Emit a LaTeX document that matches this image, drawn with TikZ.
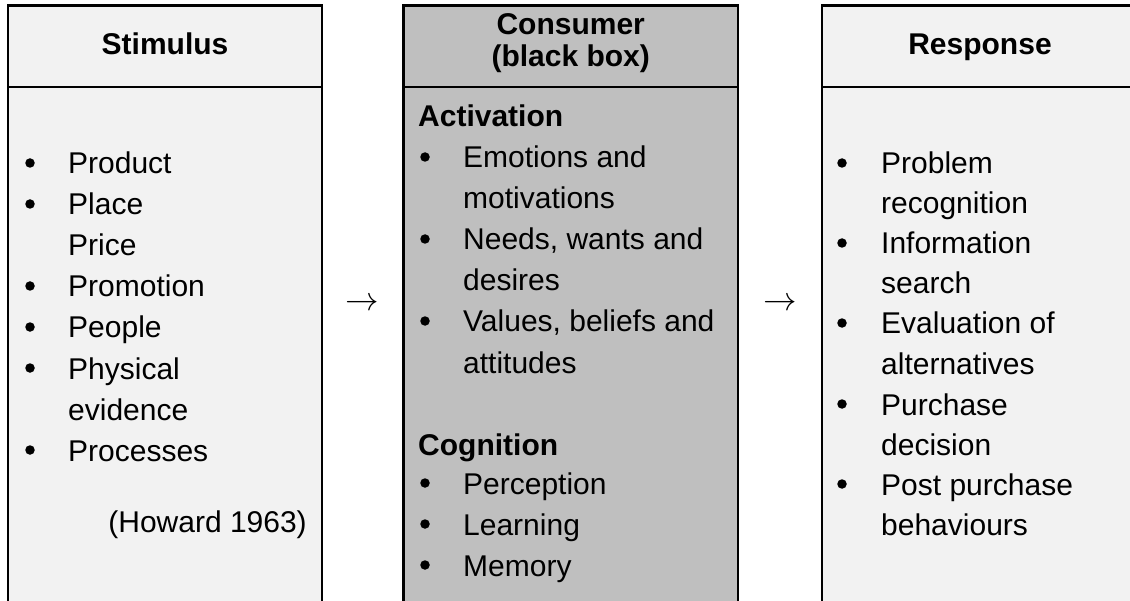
\documentclass[tikz,border=0pt]{standalone}
\usepackage{fontspec}
\setmainfont{Liberation Sans}
\definecolor{lightbox}{HTML}{F2F2F2}
\definecolor{darkbox}{HTML}{BFBFBF}
\begin{document}
\begin{tikzpicture}[x=1bp,y=-1bp,
  txt/.style={inner sep=0pt,anchor=base west,font=\fontsize{30bp}{41bp}\selectfont},
  hdr/.style={inner sep=0pt,anchor=base,font=\fontsize{30bp}{41bp}\selectfont\bfseries},
  sub/.style={inner sep=0pt,anchor=base west,font=\fontsize{30bp}{41bp}\selectfont\bfseries},
  bul/.style={circle,fill=black,inner sep=0pt,minimum size=9.5bp,yshift=11bp},
  arr/.style={inner sep=0pt,anchor=center,font=\fontsize{30bp}{41bp}\selectfont,scale=1.35},
  frame/.style={line width=2.2bp,draw=black}]
\useasboundingbox (0,0) rectangle (1130,601);
\clip (0,0) rectangle (1130,601);
% boxes
\fill[lightbox] (8,5.5) rectangle (322,620);
\draw[frame] (8,620) -- (8,5.5) -- (322,5.5) -- (322,620);
\draw[frame] (8,87) -- (322,87);
\fill[darkbox] (403.5,5.5) rectangle (738,620);
\draw[frame] (403.5,620) -- (403.5,5.5) -- (738,5.5) -- (738,620);
\draw[frame] (403.5,87) -- (738,87);
\fill[lightbox] (822,5.5) rectangle (1138,620);
\draw[frame] (822,620) -- (822,5.5) -- (1138,5.5) -- (1138,620);
\draw[frame] (822,87) -- (1138,87);
% headers
\node[hdr] (h1) at (165,55) {Stimulus};
\node[hdr] (h2a) at (570.7,35) {Consumer};
\node[hdr] (h2b) at (570.7,67) {(black box)};
\node[hdr] (h3) at (980,55) {Response};
% column 1
\node[bul] (b11) at (30,174) {}; \node[txt] (t11) at (68,174) {Product};
\node[bul] (b12) at (30,215) {}; \node[txt] (t12) at (68,215) {Place};
\node[txt] (t13) at (68,256) {Price};
\node[bul] (b14) at (30,297) {}; \node[txt] (t14) at (68,297) {Promotion};
\node[bul] (b15) at (30,338) {}; \node[txt] (t15) at (68,338) {People};
\node[bul] (b16) at (30,379) {}; \node[txt] (t16) at (68,379) {Physical};
\node[txt] (t17) at (68,420) {evidence};
\node[bul] (b18) at (30,461) {}; \node[txt] (t18) at (68,461) {Processes};
\node[txt,anchor=base east] (ref) at (307,532) {(Howard 1963)};
% column 2
\node[sub] (s21) at (418,127) {Activation};
\node[bul] (b21) at (425,168) {}; \node[txt] (t21) at (463,168) {Emotions and};
\node[txt] (t22) at (463,209) {motivations};
\node[bul] (b23) at (425,250) {}; \node[txt] (t23) at (463,250) {Needs, wants and};
\node[txt] (t24) at (463,291) {desires};
\node[bul] (b25) at (425,332) {}; \node[txt] (t25) at (463,332) {Values, beliefs and};
\node[txt] (t26) at (463,373) {attitudes};
\node[sub] (s22) at (418,455) {Cognition};
\node[bul] (b27) at (425,494) {}; \node[txt] (t27) at (463,494) {Perception};
\node[bul] (b28) at (425,535) {}; \node[txt] (t28) at (463,535) {Learning};
\node[bul] (b29) at (425,576) {}; \node[txt] (t29) at (463,576) {Memory};
% column 3
\node[bul] (b31) at (842,174) {}; \node[txt] (t31) at (881,174) {Problem};
\node[txt] (t32) at (881,214) {recognition};
\node[bul] (b33) at (842,254) {}; \node[txt] (t33) at (881,254) {Information};
\node[txt] (t34) at (881,294) {search};
\node[bul] (b35) at (842,334) {}; \node[txt] (t35) at (881,334) {Evaluation of};
\node[txt] (t36) at (881,374) {alternatives};
\node[bul] (b37) at (842,415) {}; \node[txt] (t37) at (881,415) {Purchase};
\node[txt] (t38) at (881,455) {decision};
\node[bul] (b39) at (842,495) {}; \node[txt] (t39) at (881,495) {Post purchase};
\node[txt] (t310) at (881,535) {behaviours};
% arrows
\node[arr] (a1) at (362,304) {$\rightarrow$};
\node[arr] (a2) at (780,304) {$\rightarrow$};
\end{tikzpicture}
\end{document}
